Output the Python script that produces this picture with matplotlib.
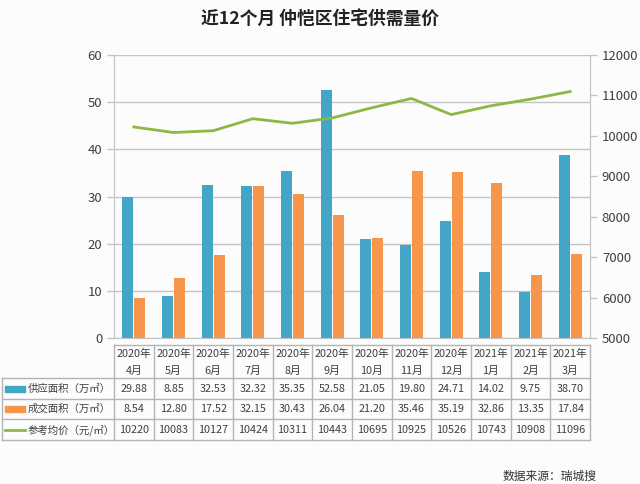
import matplotlib
matplotlib.use("Agg")
import matplotlib.pyplot as plt
from matplotlib.patches import Rectangle
from matplotlib.lines import Line2D
import matplotlib.transforms as mtransforms

plt.rcParams['font.family'] = ['Noto Sans CJK SC', 'DejaVu Sans']

years = ["2020年"] * 9 + ["2021年"] * 3
months = ["4月", "5月", "6月", "7月", "8月", "9月", "10月", "11月", "12月", "1月", "2月", "3月"]
supply = [29.88, 8.85, 32.53, 32.32, 35.35, 52.58, 21.05, 19.80, 24.71, 14.02, 9.75, 38.70]
deals = [8.54, 12.80, 17.52, 32.15, 30.43, 26.04, 21.20, 35.46, 35.19, 32.86, 13.35, 17.84]
price = [10220, 10083, 10127, 10424, 10311, 10443, 10695, 10925, 10526, 10743, 10908, 11096]
series_names = ["供应面积（万㎡）", "成交面积（万㎡）", "参考均价（元/㎡）"]
title = "近12个月 仲恺区住宅供需量价"
source = "数据来源：瑞城搜"

W, H = 640, 484
BLUE = "#44A6C6"
ORANGE = "#F7964A"
GREEN = "#8DB843"
GRID = "#c4c4c4"
TXT = "#404040"
TFS = 7.8

fig = plt.figure(figsize=(W / 100, H / 100), dpi=100)
fig.patch.set_facecolor("#fcfcfd")

def fx(px):
    return px / W

def fy(py):
    return 1 - py / H

L, R, T, B = 114, 590, 55, 338
ax = fig.add_axes([fx(L), fy(B), fx(R) - fx(L), fy(T) - fy(B)])
ax.set_facecolor("none")
ax2 = ax.twinx()

n = len(months)
x = list(range(n))
bw = 0.28
ax.bar([i - 0.15 for i in x], supply, width=bw, color=BLUE, zorder=3)
ax.bar([i + 0.15 for i in x], deals, width=bw, color=ORANGE, zorder=3)
ax.set_xlim(-0.5, n - 0.5)
ax.set_ylim(0, 60)
ax.set_yticks(range(0, 61, 10))
ax.yaxis.grid(True, color=GRID, lw=1, zorder=0)
ax.set_axisbelow(True)
ax.set_xticks([])

ax2.plot(x, price, color=GREEN, lw=2, zorder=4)
ax2.set_ylim(5000, 12000)
ax2.set_yticks(range(5000, 12001, 1000))

for a in (ax, ax2):
    for s in ("top", "bottom"):
        a.spines[s].set_visible(False)
    a.spines["left"].set_color(GRID)
    a.spines["right"].set_color(GRID)
    a.tick_params(axis="y", colors=GRID, labelcolor=TXT, labelsize=9.5, length=5, width=1)
ax.spines["bottom"].set_visible(True)
ax.spines["bottom"].set_color(GRID)

fig.text(0.5, fy(20), title, ha="center", va="center", fontsize=12.8, fontweight="bold", color="#222222")

# Table
tr = mtransforms.blended_transform_factory(ax.transData, fig.transFigure)
rows_y = [345, 378, 399, 419, 440]
lc = "#b4b4b4"
fig.add_artist(Line2D([fx(L), fx(R)], [fy(rows_y[0])] * 2, color=lc, lw=1))
for yy in rows_y[1:]:
    fig.add_artist(Line2D([fx(2), fx(R)], [fy(yy)] * 2, color=lc, lw=1))
fig.add_artist(Line2D([fx(2), fx(2)], [fy(rows_y[1]), fy(rows_y[-1])], color=lc, lw=1))
for i in range(n + 1):
    ax.add_artist(Line2D([i - 0.5, i - 0.5], [fy(rows_y[0]), fy(rows_y[-1])], color=lc, lw=1,
                         transform=tr, clip_on=False))

for i in range(n):
    ax.text(i, fy(354), years[i], transform=tr, ha="center", va="center", fontsize=TFS, color=TXT)
    ax.text(i, fy(371), months[i], transform=tr, ha="center", va="center", fontsize=TFS, color=TXT)
    ax.text(i, fy(389), f"{supply[i]:.2f}", transform=tr, ha="center", va="center", fontsize=TFS, color=TXT)
    ax.text(i, fy(409), f"{deals[i]:.2f}", transform=tr, ha="center", va="center", fontsize=TFS, color=TXT)
    ax.text(i, fy(430), f"{price[i]}", transform=tr, ha="center", va="center", fontsize=TFS, color=TXT)

label_y = [389, 409, 430]
fig.add_artist(Rectangle((fx(5), fy(392)), fx(20), 6 / H, color=BLUE))
fig.add_artist(Rectangle((fx(5), fy(412)), fx(20), 6 / H, color=ORANGE))
fig.add_artist(Line2D([fx(5), fx(25)], [fy(430), fy(430)], color=GREEN, lw=2))
for yy, name in zip(label_y, series_names):
    fig.text(fx(28), fy(yy), name, ha="left", va="center", fontsize=7.5, color=TXT)

fig.text(fx(597), fy(476), source, ha="right", va="center", fontsize=8.5, color="#333333")

fig.savefig("out.png", dpi=100, facecolor=fig.get_facecolor())
